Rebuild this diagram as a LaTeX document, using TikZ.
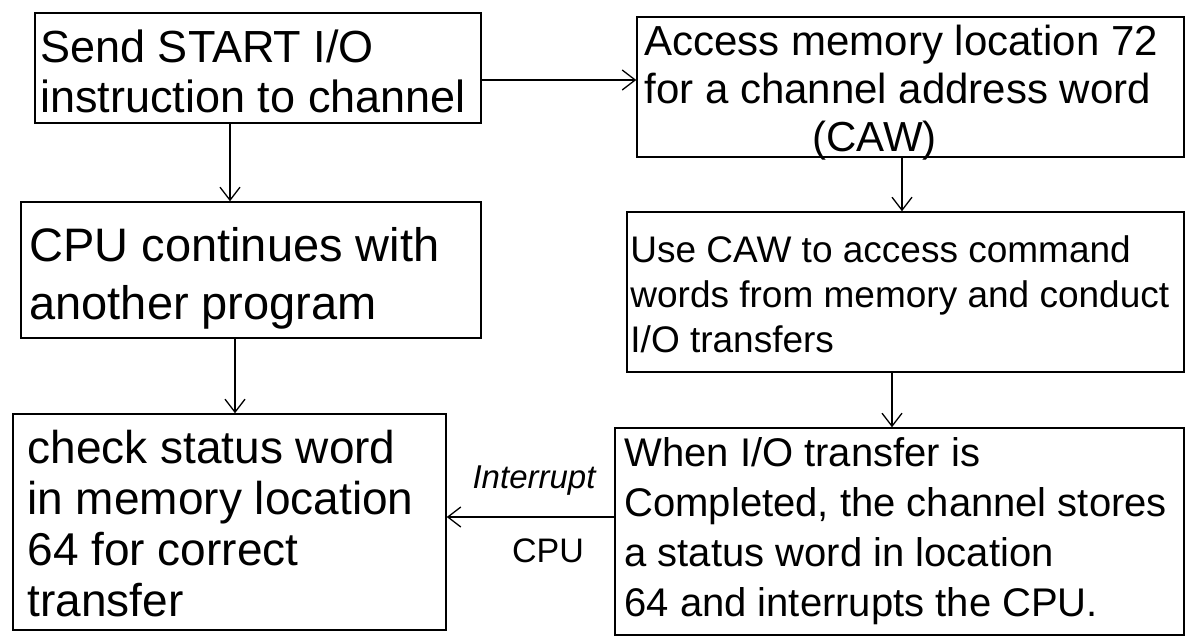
\documentclass[tikz,border=0pt]{standalone}
\usepackage{fontspec}
\setmainfont{Liberation Sans}
\usetikzlibrary{arrows.meta}
\begin{document}
\begin{tikzpicture}[x=1pt,y=-1pt,
  box/.style={draw, line width=1.5pt, inner sep=0pt},
  txt/.style={anchor=west, align=left, inner sep=0pt},
  arr/.style={line width=1.3pt, -{Straight Barb[length=13pt,width=20pt,line width=1.3pt]}},
  lbl/.style={inner sep=0pt, font=\fontsize{34}{34}\selectfont}]
\useasboundingbox[fill=white] (0,0) rectangle (1188,644);
% boxes
\node[box, minimum width=446pt, minimum height=110pt] (b1) at (258,68) {};
\node[box, minimum width=547pt, minimum height=140pt] (b2) at (910.5,87) {};
\node[box, minimum width=460pt, minimum height=136pt] (b3) at (251,270) {};
\node[box, minimum width=557pt, minimum height=160pt] (b4) at (905.5,292) {};
\node[box, minimum width=433pt, minimum height=216pt] (b5) at (229.5,522) {};
\node[box, minimum width=569pt, minimum height=207pt] (b6) at (899.5,531.5) {};
% texts
\node[txt, font=\fontsize{45}{50}\selectfont] (t1) at ([xshift=6pt,yshift=-3pt]b1.west) {Send START I/O\\instruction to channel};
\node[txt, font=\fontsize{42}{48}\selectfont] (t2) at ([xshift=8pt,yshift=-6pt]b2.west) {Access memory location 72\\for a channel address word\\\hspace*{168pt}(CAW)};
\node[txt, font=\fontsize{47}{58}\selectfont] (t3) at ([xshift=9pt,yshift=-8pt]b3.west) {CPU continues with\\another program};
\node[txt, font=\fontsize{37}{45}\selectfont] (t4) at ([xshift=4pt,yshift=-2pt]b4.west) {Use CAW to access command\\words from memory and conduct\\I/O transfers};
\node[txt, font=\fontsize{46}{51}\selectfont] (t5) at ([xshift=15pt,yshift=-2pt]b5.west) {check status word\\in memory location\\64 for correct\\transfer};
\node[txt, font=\fontsize{40}{50}\selectfont] (t6) at ([xshift=10pt]b6.west) {When I/O transfer is\\Completed, the channel stores\\a status word in location\\64 and interrupts the CPU.};
% helper coordinates
\coordinate (h1) at (0,80);
\coordinate (h2) at (0,517);
\coordinate (v1) at (230,0);
\coordinate (v2) at (902,0);
\coordinate (v3) at (235,0);
\coordinate (v4) at (892,0);
% connectors
\draw[arr] (b1.east |- h1) -- (b2.west |- h1);
\draw[arr] (b1.south -| v1) -- (b3.north -| v1);
\draw[arr] (b2.south -| v2) -- (b4.north -| v2);
\draw[arr] (b3.south -| v3) -- (b5.north -| v3);
\draw[arr] (b4.south -| v4) -- (b6.north -| v4);
\draw[arr] (b6.west |- h2) -- (b5.east |- h2);
% labels
\node[lbl, font=\fontsize{33}{33}\selectfont\itshape] (lint) at (534,481) {Interrupt};
\node[lbl] (lcpu) at (548,551) {CPU};
\end{tikzpicture}
\end{document}
